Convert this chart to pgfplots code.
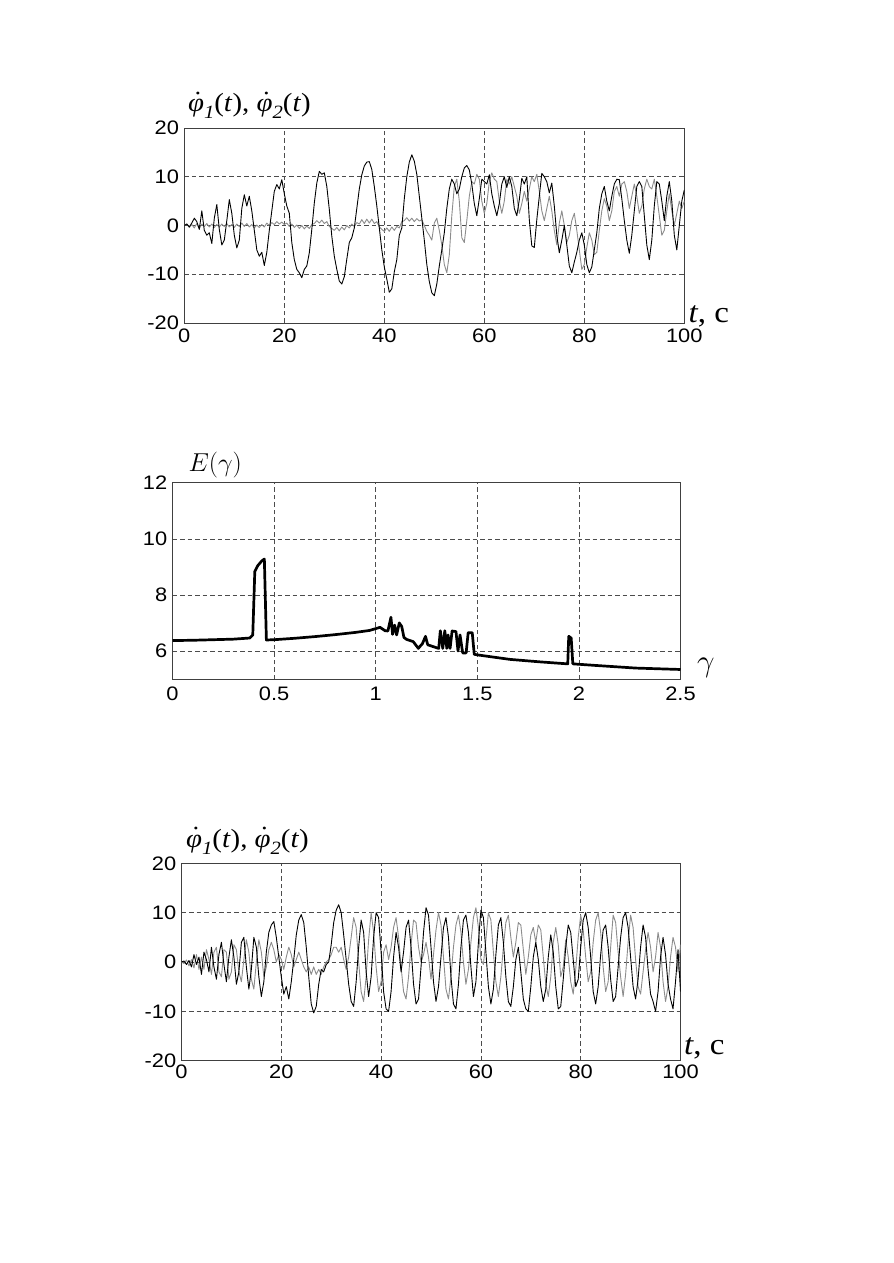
\documentclass[border=0pt]{standalone}
\usepackage{fontspec}
\usepackage{pgfplots}
\pgfplotsset{compat=1.18}
\setmainfont{Liberation Sans}[FakeStretch=1.12]
\newfontfamily\serif{Liberation Serif}[FakeStretch=1.1]
\newcommand\labfont{\serif\fontsize{17.5}{20}\selectfont}
\newcommand\tfont{\serif\fontsize{20}{22}\selectfont}
\newcommand\dphi{{\itshape\setbox0\hbox{φ}\rlap{\hbox to\wd0{\hss\kern0.14em\raisebox{0.1em}{\upshape\char"02D9}\hss}}\box0}}
\newcommand\sub[1]{\raisebox{-0.28em}{\fontsize{12.5}{12.5}\selectfont\itshape #1}}
\pgfplotsset{
  myaxis/.style={
    scale only axis, anchor=south west,
    axis line style={line width=0.6pt, black!75},
    grid=major,
    major grid style={dash pattern=on 3pt off 2pt, black!70, line width=0.5pt},
    major tick length=0pt,
    tick label style={font=\fontsize{13}{15}\selectfont},
    clip=true,
  },
  sig/.style={black, line width=0.6pt, line join=round},
  sig2/.style={black!45, line width=0.6pt, line join=round},
}
\begin{document}
\begin{tikzpicture}
\path[use as bounding box] (0,0) rectangle (595.33pt,-842pt);

% ---------------- plot 1 ----------------
\begin{axis}[myaxis, name=p1, at={(122.87pt,-215.33pt)},
  width=333.33pt, height=130pt,
  xmin=0, xmax=100, ymin=-20, ymax=20,
  xtick={0,20,40,60,80,100}, xticklabels={0,20,40,60,80,100},
  ytick={-20,-10,0,10,20}, yticklabels={-20,-10,0,10,20},
  xticklabel style={yshift=-0.5pt}]
\addplot[sig2] coordinates {
(0,0) (0.5,0.3) (1,-0.4) (1.5,0.2) (2,-0.5) (2.5,0.4) (3,-0.6) (3.5,0.3) (4,-0.2) (4.5,0.4)
(5,-0.3) (5.5,0.3) (6,-0.4) (6.5,0.2) (7,-0.3) (7.5,0.3) (8,-0.2) (8.5,0.4) (9,-0.3) (9.5,0.2)
(10,-0.4) (10.5,0.3) (11,-0.2) (11.5,0.5) (12,-0.2) (12.5,0.4) (13,-0.3) (13.5,0.2) (14,-0.5) (14.5,0.1)
(15,-0.4) (15.5,0.2) (16,-0.3) (16.5,0.5) (17,0.0) (17.5,0.6) (18,0.2) (18.5,0.8) (19,0.3) (19.5,0.7)
(20,0.2) (20.5,0.5) (21,-0.2) (21.5,0.3) (22,-0.4) (22.5,0.1) (23,-0.6) (23.5,0.0) (24,-0.7) (24.5,-0.1)
(25,-0.6) (25.5,0.2) (26,0.4) (26.5,1.0) (27,0.5) (27.5,1.1) (28,0.4) (28.5,0.8) (29,-0.2) (29.5,-0.6)
(30,-1.0) (30.5,-0.4) (31,-1.1) (31.5,-0.3) (32,-0.9) (32.5,0.0) (33,-0.5) (33.5,0.3) (34,-0.2) (34.5,0.6)
(35,0.3) (35.5,1.2) (36,0.4) (36.5,1.3) (37,0.5) (37.5,1.3) (38,0.4) (38.5,0.8) (39,-0.3) (39.5,-0.8)
(40,-1.2) (40.5,-0.5) (41,-1.2) (41.5,-0.3) (42,-1.0) (42.5,-0.2) (43,-0.5) (43.5,0.8) (44,1.0) (44.5,1.6)
(45,0.9) (45.5,1.5) (46,0.8) (46.5,1.4) (47,0.9) (47.5,1.2) (48,0.0) (48.5,-1.2) (49,-2.0) (49.5,-3.0)
(50,0.5) (50.5,1.5) (51,-1.0) (51.5,-4.0) (52,-8.0) (52.5,-9.7) (53,-6.0) (53.5,2.0) (54,8.0) (54.5,9.5)
(55,5.0) (55.5,-2.5) (56,-3.5) (56.5,1.0) (57,6.0) (57.5,9.0) (58,8.5) (58.5,10.5) (59,9.5) (59.5,5.0)
(60,2.5) (60.5,4.5) (61,9.0) (61.5,10.8) (62,9.5) (62.5,9.0) (63,5.0) (63.5,2.5) (64,5.0) (64.5,9.5)
(65,8.5) (65.5,10.0) (66,8.0) (66.5,6.0) (67,2.5) (67.5,4.5) (68,7.0) (68.5,5.0) (69,7.5) (69.5,10.0)
(70,9.0) (70.5,10.5) (71,7.0) (71.5,3.0) (72,1.0) (72.5,3.5) (73,6.0) (73.5,3.0) (74,-1.0) (74.5,-4.0)
(75,0.5) (75.5,3.0) (76,0.0) (76.5,-3.5) (77,-2.0) (77.5,1.0) (78,2.5) (78.5,-1.0) (79,-5.0) (79.5,-9.0)
(80,-8.0) (80.5,-4.5) (81,-1.5) (81.5,-3.0) (82,-6.0) (82.5,-5.5) (83,-1.0) (83.5,3.0) (84,5.5) (84.5,4.0)
(85,1.0) (85.5,3.0) (86,7.0) (86.5,8.0) (87,6.0) (87.5,8.5) (88,9.0) (88.5,7.0) (89,3.5) (89.5,6.0)
(90,8.5) (90.5,6.0) (91,2.5) (91.5,4.0) (92,7.5) (92.5,9.5) (93,8.0) (93.5,7.5) (94,9.5) (94.5,6.0)
(95,2.0) (95.5,-2.0) (96,-1.0) (96.5,3.0) (97,6.5) (97.5,3.0) (98,0.0) (98.5,2.5) (99,5.0) (99.5,3.5)
(100,5.0)};
\addplot[sig] coordinates {
(0,0) (0.5,0.3) (1,-0.3) (1.5,0.5) (2,1.5) (2.5,0.8) (3,-0.8) (3.5,3.0) (4,-1.0) (4.5,-2.0)
(5,-1.5) (5.5,-3.7) (6,1.5) (6.5,4.3) (7,-0.8) (7.5,-4.0) (8,-3.0) (8.5,1.0) (9,5.3) (9.5,2.5)
(10,-2.0) (10.5,-4.6) (11,-3.0) (11.5,3.5) (12,6.3) (12.5,4.0) (13,6.0) (13.5,3.0) (14,-1.0) (14.5,-5.0)
(15,-6.3) (15.5,-5.5) (16,-8.2) (16.5,-5.5) (17,-1.0) (17.5,3.0) (18,7.0) (18.5,8.4) (19,7.5) (19.5,9.4)
(20,6.5) (20.5,4.0) (21,2.5) (21.5,-3.5) (22,-7.0) (22.5,-9.0) (23,-9.7) (23.5,-10.7) (24,-9.0) (24.5,-8.3)
(25,-5.6) (25.5,-0.8) (26,4.6) (26.5,8.7) (27,11.1) (27.5,10.5) (28,10.8) (28.5,8.0) (29,3.3) (29.5,-2.2)
(30,-6.3) (30.5,-9.0) (31,-11.4) (31.5,-12.0) (32,-10.5) (32.5,-6.9) (33,-3.5) (33.5,-2.5) (34,-0.5) (34.5,3.5)
(35,7.5) (35.5,10.4) (36,12.2) (36.5,13.0) (37,13.1) (37.5,11.5) (38,8.0) (38.5,4.0) (39,-0.5) (39.5,-5.0)
(40,-8.5) (40.5,-11.0) (41,-13.7) (41.5,-13.0) (42,-9.5) (42.5,-7.0) (43,-2.0) (43.5,-0.5) (44,5.5) (44.5,10.0)
(45,13.0) (45.5,14.5) (46,13.2) (46.5,10.5) (47,6.0) (47.5,1.5) (48,-3.0) (48.5,-8.0) (49,-11.5) (49.5,-13.8)
(50,-14.4) (50.5,-12.0) (51,-8.3) (51.5,-5.0) (52,-1.5) (52.5,3.5) (53,7.5) (53.5,9.5) (54,8.5) (54.5,6.5)
(55,7.5) (55.5,10.0) (56,11.8) (56.5,12.3) (57,11.4) (57.5,8.5) (58,4.5) (58.5,2.0) (59,5.5) (59.5,9.5)
(60,9.0) (60.5,8.5) (61,10.4) (61.5,6.5) (62,4.0) (62.5,2.0) (63,4.5) (63.5,8.5) (64,10.0) (64.5,7.8)
(65,10.0) (65.5,8.0) (66,3.5) (66.5,2.0) (67,5.3) (67.5,9.7) (68,8.5) (68.5,10.0) (69,1.2) (69.5,-4.2)
(70,-4.5) (70.5,1.2) (71,6.0) (71.5,10.7) (72,10.0) (72.5,9.0) (73,6.7) (73.5,8.7) (74,4.0) (74.5,-2.0)
(75,-5.6) (75.5,-3.0) (76,0.0) (76.5,-4.0) (77,-8.3) (77.5,-9.7) (78,-7.5) (78.5,-5.5) (79,-3.0) (79.5,-1.5)
(80,-4.0) (80.5,-8.0) (81,-9.7) (81.5,-8.5) (82,-5.0) (82.5,-1.5) (83,3.5) (83.5,6.5) (84,8.0) (84.5,5.0)
(85,3.0) (85.5,6.0) (86,8.5) (86.5,9.5) (87,9.4) (87.5,5.5) (88,1.0) (88.5,-3.0) (89,-5.7) (89.5,-2.0)
(90,3.0) (90.5,8.0) (91,9.0) (91.5,8.0) (92,2.0) (92.5,-4.0) (93,-7.0) (93.5,-3.0) (94,4.0) (94.5,9.0)
(95,8.5) (95.5,5.0) (96,1.0) (96.5,6.0) (97,9.0) (97.5,5.0) (98,-2.0) (98.5,-5.0) (99,0.0) (99.5,5.0)
(100,7.3)};
\end{axis}
\node[anchor=base west, inner sep=0pt, font=\tfont] at ([xshift=2.7pt,yshift=0.5pt]p1.south east) {\textit{t}, с};
\node[anchor=base west, inner sep=0pt, font=\labfont] at ([xshift=2.3pt,yshift=10.9pt]p1.north west) {\dphi\sub{1}(\textit{t}), \dphi\sub{2}(\textit{t})};

% ---------------- plot 2 ----------------
\begin{axis}[myaxis, name=p2, at={(115pt,-452.87pt)},
  width=338.67pt, height=131.07pt,
  xmin=0, xmax=2.5, ymin=5, ymax=12,
  xtick={0,0.5,1,1.5,2,2.5}, xticklabels={0,0.5,1,1.5,2,2.5},
  ytick={6,8,10,12}, yticklabels={6,8,10,12},
  xticklabel style={yshift=-1.7pt}]
\addplot[black, line width=1.8pt, line join=round] coordinates {
(0,6.38) (0.1,6.39) (0.2,6.41) (0.3,6.43) (0.38,6.47) (0.395,6.58) (0.405,8.84) (0.42,9.05) (0.44,9.22) (0.452,9.28)
(0.462,6.40) (0.5,6.41) (0.6,6.46) (0.7,6.52) (0.8,6.59) (0.9,6.67) (0.97,6.74) (1.021,6.85) (1.046,6.73) (1.06,6.72)
(1.075,7.21) (1.083,6.60) (1.093,6.93) (1.103,6.58) (1.116,7.01) (1.128,6.88) (1.139,6.49) (1.152,6.42) (1.185,6.34) (1.21,6.10)
(1.22,6.19) (1.23,6.27) (1.245,6.53) (1.256,6.23) (1.28,6.17) (1.31,6.10) (1.318,6.73) (1.33,6.10) (1.34,6.73) (1.35,6.10)
(1.356,6.58) (1.366,6.10) (1.376,6.72) (1.395,6.70) (1.405,6.01) (1.415,6.58) (1.428,5.94) (1.445,5.94) (1.455,6.66) (1.475,6.66)
(1.485,5.89) (1.51,5.86) (1.66,5.71) (1.81,5.62) (1.945,5.55) (1.95,6.53) (1.962,6.47) (1.97,5.55) (2.09,5.49) (2.28,5.40)
(2.5,5.35)};
\end{axis}
\node[anchor=base west, inner sep=0pt] at ([xshift=10.8pt,yshift=5pt]p2.south east) {\fontsize{20}{22}\selectfont$\gamma$};
\node[anchor=base west, inner sep=0pt] at ([xshift=10.5pt,yshift=7.3pt]p2.north west) {\fontsize{18}{20}\selectfont$E(\gamma)$};

% ---------------- plot 3 ----------------
\begin{axis}[myaxis, name=p3, at={(121pt,-707.13pt)},
  width=332.67pt, height=131.6pt,
  xmin=0, xmax=100, ymin=-20, ymax=20,
  xtick={0,20,40,60,80,100}, xticklabels={0,20,40,60,80,100},
  ytick={-20,-10,0,10,20}, yticklabels={-20,-10,0,10,20},
  xticklabel style={yshift=1pt}]
\addplot[sig2] coordinates {
(0,0) (0.5,-0.3) (1,0.4) (1.5,-0.8) (2,0.5) (2.5,-1.2) (3,1.5) (3.5,-1.5) (4,1.0) (4.5,-1.5)
(5,2.5) (5.5,0.5) (6,-2.5) (6.5,2.0) (7,3.0) (7.5,-2.0) (8,-3.0) (8.5,2.5) (9,2.0) (9.5,-3.5)
(10,-2.0) (10.5,3.5) (11,2.5) (11.5,-2.0) (12,-4.0) (12.5,0.5) (13,4.5) (13.5,2.0) (14,-3.5) (14.5,-5.5)
(15,0.0) (15.5,4.5) (16,2.0) (16.5,-3.0) (17,-1.0) (17.5,2.5) (18,4.0) (18.5,2.5) (19,0.0) (19.5,1.5)
(20,0.5) (20.5,-1.5) (21,1.0) (21.5,3.0) (22,1.5) (22.5,-1.0) (23,0.5) (23.5,2.0) (24,0.5) (24.5,-1.0)
(25,-2.0) (25.5,-1.0) (26,-2.5) (26.5,-1.0) (27,-2.5) (27.5,-1.5) (28,-2.5) (28.5,-1.0) (29,0.0) (29.5,0.5)
(30,1.5) (30.5,3.0) (31,3.0) (31.5,2.0) (32,3.0) (32.5,0.5) (33,-1.5) (33.5,1.0) (34,5.0) (34.5,9.0)
(35,7.0) (35.5,0.0) (36,-6.0) (36.5,-8.0) (37,-3.0) (37.5,4.5) (38,10.0) (38.5,6.0) (39,-1.0) (39.5,-6.0)
(40,-4.0) (40.5,2.0) (41,3.5) (41.5,0.5) (42,3.0) (42.5,7.0) (43,9.0) (43.5,5.0) (44,-1.0) (44.5,-6.0)
(45,-7.5) (45.5,-3.0) (46,3.5) (46.5,8.5) (47,8.0) (47.5,3.0) (48,0.0) (48.5,1.5) (49,4.0) (49.5,1.0)
(50,-3.5) (50.5,1.5) (51,6.5) (51.5,10.0) (52,7.5) (52.5,1.0) (53,-5.5) (53.5,-7.5) (54,-3.0) (54.5,3.0)
(55,7.5) (55.5,9.5) (56,6.0) (56.5,0.0) (57,-4.5) (57.5,-1.5) (58,4.0) (58.5,9.0) (59,11.0) (59.5,7.0)
(60,0.5) (60.5,-0.5) (61,4.5) (61.5,10.0) (62,8.5) (62.5,2.0) (63,-4.0) (63.5,-7.0) (64,-3.0) (64.5,3.0)
(65,8.0) (65.5,9.5) (66,5.0) (66.5,1.0) (67,4.0) (67.5,8.0) (68,7.5) (68.5,2.5) (69,-2.5) (69.5,1.0)
(70,5.5) (70.5,7.0) (71,4.0) (71.5,7.5) (72,6.5) (72.5,1.0) (73,-4.5) (73.5,-7.0) (74,-3.0) (74.5,4.0)
(75,7.0) (75.5,3.5) (76,-3.0) (76.5,-1.0) (77,4.5) (77.5,1.0) (78,-4.0) (78.5,-6.5) (79,-1.5) (79.5,5.0)
(80,9.5) (80.5,6.5) (81,1.0) (81.5,-4.0) (82,-2.0) (82.5,4.0) (83,8.5) (83.5,10.0) (84,6.0) (84.5,-1.0)
(85,-6.0) (85.5,-4.0) (86,3.0) (86.5,9.5) (87,8.0) (87.5,2.0) (88,-3.0) (88.5,-7.0) (89,-2.5) (89.5,4.0)
(90,9.5) (90.5,7.0) (91,0.5) (91.5,-5.0) (92,-6.5) (92.5,-2.0) (93,2.5) (93.5,6.0) (94,3.0) (94.5,-2.0)
(95,1.0) (95.5,6.0) (96,3.0) (96.5,-4.0) (97,-8.0) (97.5,-5.0) (98,1.0) (98.5,5.0) (99,3.0) (99.5,-2.0)
(100,3.5)};
\addplot[sig] coordinates {
(0,0) (0.5,0.2) (1,-0.5) (1.5,0.3) (2,-1.0) (2.5,1.5) (3,-0.5) (3.5,1.0) (4,-2.5) (4.5,2.0)
(5,0.5) (5.5,-2.0) (6,3.0) (6.5,-1.0) (7,-3.5) (7.5,1.5) (8,4.0) (8.5,-0.5) (9,-4.0) (9.5,1.0)
(10,4.5) (10.5,1.0) (11,-4.5) (11.5,-2.0) (12,4.0) (12.5,5.0) (13,-1.0) (13.5,-5.5) (14,-1.5) (14.5,5.0)
(15,3.0) (15.5,-3.0) (16,-7.0) (16.5,-4.0) (17,2.0) (17.5,6.0) (18,7.5) (18.5,8.2) (19,5.0) (19.5,1.0)
(20,-3.0) (20.5,-6.5) (21,-5.0) (21.5,-7.5) (22,-4.0) (22.5,0.5) (23,5.5) (23.5,8.5) (24,9.6) (24.5,8.0)
(25,3.0) (25.5,-3.0) (26,-8.5) (26.5,-10.3) (27,-9.0) (27.5,-4.5) (28,-1.5) (28.5,-2.0) (29,-0.5) (29.5,0.0)
(30,3.5) (30.5,8.0) (31,10.5) (31.5,11.6) (32,10.0) (32.5,5.5) (33,0.5) (33.5,-4.5) (34,-8.0) (34.5,-9.0)
(35,-4.0) (35.5,3.0) (36,8.5) (36.5,6.0) (37,-2.0) (37.5,-7.0) (38,-3.0) (38.5,5.0) (39,10.0) (39.5,9.0)
(40,2.0) (40.5,-6.0) (41,-9.5) (41.5,-10.0) (42,-6.0) (42.5,1.0) (43,6.0) (43.5,3.0) (44,-2.0) (44.5,2.0)
(45,7.0) (45.5,8.5) (46,3.0) (46.5,-4.5) (47,-8.5) (47.5,-7.5) (48,-1.0) (48.5,6.0) (49,11.0) (49.5,9.5)
(50,3.0) (50.5,-4.0) (51,-8.0) (51.5,-5.0) (52,1.0) (52.5,7.0) (53,9.0) (53.5,5.0) (54,-3.0) (54.5,-8.5)
(55,-9.5) (55.5,-4.5) (56,3.0) (56.5,8.5) (57,9.5) (57.5,6.0) (58,-1.0) (58.5,-7.0) (59,-4.0) (59.5,4.0)
(60,10.5) (60.5,9.0) (61,2.0) (61.5,-5.0) (62,-8.5) (62.5,-5.5) (63,1.5) (63.5,7.5) (64,9.0) (64.5,4.0)
(65,-3.0) (65.5,-8.0) (66,-9.0) (66.5,-5.0) (67,0.5) (67.5,3.0) (68,-2.0) (68.5,-7.5) (69,-9.5) (69.5,-10.0)
(70,-5.0) (70.5,1.0) (71,4.0) (71.5,0.5) (72,-5.0) (72.5,-8.0) (73,-5.5) (73.5,1.0) (74,5.5) (74.5,2.0)
(75,-5.0) (75.5,-9.5) (76,-9.0) (76.5,-3.5) (77,3.0) (77.5,7.5) (78,6.0) (78.5,0.5) (79,-5.0) (79.5,-3.5)
(80,3.0) (80.5,8.5) (81,10.0) (81.5,7.0) (82,1.0) (82.5,-6.0) (83,-8.5) (83.5,-5.0) (84,1.5) (84.5,6.5)
(85,7.5) (85.5,3.0) (86,-3.5) (86.5,-8.0) (87,-7.0) (87.5,-1.0) (88,5.0) (88.5,9.0) (89,10.0) (89.5,7.0)
(90,1.0) (90.5,-5.0) (91,-7.5) (91.5,-3.5) (92,3.0) (92.5,7.5) (93,5.0) (93.5,-1.5) (94,-6.5) (94.5,-8.0)
(95,-10.0) (95.5,-6.0) (96,1.0) (96.5,5.0) (97,1.5) (97.5,-4.5) (98,-7.5) (98.5,-9.5) (99,-4.0) (99.5,2.5)
(100,-6.0)};
\end{axis}
\node[anchor=base west, inner sep=0pt, font=\tfont] at ([xshift=2.2pt,yshift=4pt]p3.south east) {\textit{t}, с};
\node[anchor=base west, inner sep=0pt, font=\labfont] at ([xshift=2.9pt,yshift=10.5pt]p3.north west) {\dphi\sub{1}(\textit{t}), \dphi\sub{2}(\textit{t})};
\end{tikzpicture}
\end{document}
